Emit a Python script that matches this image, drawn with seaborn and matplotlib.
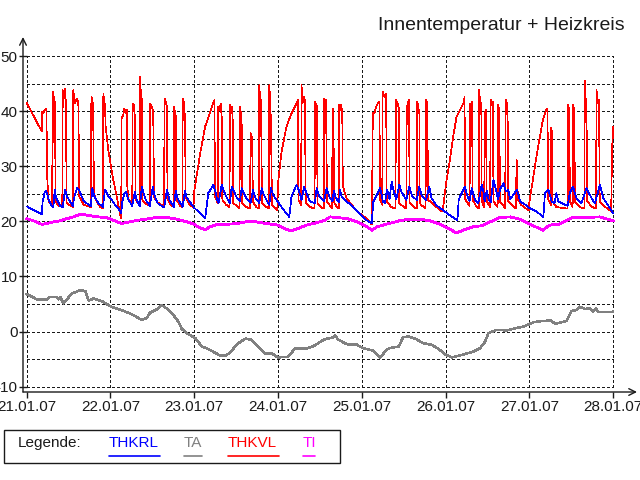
import matplotlib
matplotlib.use("Agg")
import matplotlib.pyplot as plt
import pandas as pd
import seaborn as sns
from matplotlib.lines import Line2D
from matplotlib.patches import Rectangle

# ---------------- data (time in days since 21.01.07 00:00, value in degC) -------------
day_labels = ["21.01.07", "22.01.07", "23.01.07", "24.01.07",
              "25.01.07", "26.01.07", "27.01.07", "28.01.07"]
y_labels = [-10, 0, 10, 20, 30, 40, 50]

# THKVL (flow temperature, red)
thkvl = [
    (0.00, 41.5), (0.18, 36.3), (0.185, 39.9), (0.20, 39.6), (0.215, 40.2), (0.235, 40.5), (0.245, 28.0), (0.26, 23.6), (0.30, 23.0),
    (0.318, 43.5), (0.328, 41.4), (0.338, 41.7), (0.345, 23.6), (0.38, 22.8), (0.425, 22.6),
    (0.43, 43.8), (0.445, 42.3), (0.457, 44.1), (0.468, 41.4), (0.477, 23.3), (0.55, 22.6),
    (0.556, 43.8), (0.576, 41.4), (0.596, 42.3), (0.616, 41.7), (0.628, 24.5), (0.68, 23.0), (0.765, 22.6),
    (0.772, 42.6), (0.787, 41.7), (0.795, 37.2), (0.803, 25.1), (0.835, 23.6), (0.875, 22.6), (0.908, 22.3),
    (0.915, 43.2), (0.926, 41.4), (0.934, 41.4), (0.942, 37.2), (0.974, 32.9), (1.006, 29.9), (1.034, 27.5), (1.074, 24.5), (1.113, 21.4), (1.128, 20.5),
    (1.133, 38.7), (1.153, 39.3), (1.165, 40.5), (1.181, 39.6), (1.193, 40.2), (1.201, 26.3), (1.213, 23.9), (1.26, 23.3),
    (1.265, 41.4), (1.28, 41.1), (1.292, 38.7), (1.30, 23.9), (1.332, 23.3), (1.348, 23.0),
    (1.353, 46.2), (1.364, 42.6), (1.372, 42.3), (1.38, 23.9), (1.412, 23.3), (1.467, 22.8),
    (1.472, 41.4), (1.492, 40.8), (1.504, 40.2), (1.512, 37.2), (1.519, 24.5), (1.551, 23.6), (1.64, 22.6),
    (1.645, 42.3), (1.665, 41.4), (1.675, 40.5), (1.68, 24.0), (1.72, 23.0), (1.755, 22.6),
    (1.758, 40.8), (1.772, 39.6), (1.782, 39.0), (1.786, 24.0), (1.83, 22.8), (1.858, 22.5),
    (1.862, 42.3), (1.878, 41.4), (1.89, 38.4), (1.897, 24.5), (1.94, 23.0), (1.99, 22.6),
    (2.00, 25.5), (2.07, 32.3), (2.13, 37.2), (2.19, 39.9), (2.227, 41.6), (2.24, 42.0), (2.247, 24.5), (2.28, 23.3),
    (2.287, 40.8), (2.299, 40.2), (2.315, 41.4), (2.327, 39.0), (2.335, 23.9), (2.38, 23.0), (2.42, 22.6),
    (2.426, 41.1), (2.438, 40.2), (2.45, 40.8), (2.458, 38.4), (2.466, 23.3), (2.52, 22.6), (2.54, 22.3),
    (2.545, 40.8), (2.557, 39.6), (2.565, 38.0), (2.573, 23.3), (2.62, 22.6), (2.665, 22.3),
    (2.672, 36.0), (2.69, 35.0), (2.70, 23.5), (2.74, 22.6), (2.77, 22.3),
    (2.776, 44.7), (2.788, 41.4), (2.796, 42.0), (2.808, 23.3), (2.86, 22.6), (2.89, 22.3),
    (2.895, 44.7), (2.907, 41.4), (2.915, 37.8), (2.927, 23.0), (2.97, 22.3), (2.99, 22.0),
    (3.00, 27.0), (3.04, 32.5), (3.10, 37.2), (3.16, 39.6), (3.22, 41.4), (3.235, 42.0), (3.243, 23.9), (3.275, 23.0),
    (3.28, 44.7), (3.292, 41.4), (3.308, 42.6), (3.32, 42.0), (3.33, 23.3), (3.38, 22.6), (3.435, 22.3),
    (3.44, 41.7), (3.452, 40.5), (3.46, 41.4), (3.472, 23.3), (3.51, 22.6), (3.545, 22.3),
    (3.548, 42.3), (3.56, 41.4), (3.572, 42.0), (3.584, 23.6), (3.63, 22.6), (3.645, 22.4),
    (3.65, 40.5), (3.66, 39.6), (3.668, 23.5), (3.70, 22.6), (3.726, 22.3),
    (3.730, 41.1), (3.742, 40.2), (3.754, 41.1), (3.766, 39.6), (3.772, 26.5), (3.786, 25.7), (3.818, 24.2), (3.898, 22.6), (3.978, 21.4), (4.057, 20.5), (4.12, 19.4),
    (4.13, 39.6), (4.15, 39.6), (4.17, 40.8), (4.19, 41.4), (4.21, 41.7), (4.216, 24.0), (4.243, 23.0),
    (4.248, 43.5), (4.27, 42.6), (4.29, 43.2), (4.296, 23.6), (4.35, 22.6), (4.40, 22.3),
    (4.407, 42.0), (4.425, 41.4), (4.44, 40.5), (4.445, 23.3), (4.50, 22.6), (4.53, 22.3),
    (4.535, 40.2), (4.55, 41.7), (4.562, 42.0), (4.57, 23.3), (4.62, 22.6), (4.655, 22.3),
    (4.66, 41.7), (4.672, 40.8), (4.686, 39.6), (4.69, 23.3), (4.72, 22.8), (4.76, 22.4),
    (4.765, 42.0), (4.78, 41.4), (4.79, 23.8), (4.83, 23.5), (4.89, 22.6), (4.93, 22.0), (4.965, 21.8),
    (4.98, 23.9), (5.01, 27.5), (5.05, 31.1), (5.09, 35.4), (5.13, 39.0), (5.17, 40.2), (5.21, 41.4), (5.225, 42.5), (5.232, 24.0), (5.285, 22.8),
    (5.29, 41.4), (5.30, 40.5), (5.315, 41.7), (5.322, 23.9), (5.37, 22.6), (5.395, 22.3),
    (5.40, 43.8), (5.41, 41.7), (5.425, 41.4), (5.43, 23.6), (5.46, 22.6),
    (5.465, 39.6), (5.48, 40.2), (5.49, 23.6), (5.53, 22.6),
    (5.537, 42.0), (5.55, 41.4), (5.565, 41.7), (5.57, 23.6), (5.62, 22.6),
    (5.625, 41.1), (5.64, 40.2), (5.648, 23.6), (5.71, 22.4),
    (5.716, 42.0), (5.73, 41.4), (5.74, 38.0), (5.745, 23.6), (5.84, 22.3),
    (5.845, 31.1), (5.855, 30.5), (5.86, 24.0), (5.90, 23.0), (5.96, 22.3), (5.99, 22.0),
    (6.00, 23.6), (6.04, 27.5), (6.08, 31.4), (6.12, 35.0), (6.16, 38.4), (6.20, 40.2), (6.215, 40.5), (6.222, 24.0), (6.255, 23.0),
    (6.26, 37.0), (6.27, 36.0), (6.275, 23.6), (6.32, 22.6), (6.455, 22.3),
    (6.46, 41.1), (6.475, 40.2), (6.482, 23.6), (6.515, 22.6),
    (6.52, 41.1), (6.535, 40.2), (6.542, 23.6), (6.60, 22.6), (6.655, 22.3),
    (6.66, 45.5), (6.67, 42.3), (6.68, 41.4), (6.688, 23.6), (6.75, 22.6), (6.795, 22.3),
    (6.80, 43.8), (6.815, 41.4), (6.83, 42.0), (6.838, 23.6), (6.90, 22.6), (6.935, 22.3),
    (6.975, 21.8), (6.985, 33.0), (7.00, 37.2),
]

# THKRL (return temperature, blue)
thkrl = [
    (0.00, 22.7), (0.18, 21.3), (0.19, 23.5), (0.215, 25.3), (0.235, 25.5), (0.26, 24.0), (0.30, 22.7), (0.318, 22.5),
    (0.335, 25.8), (0.35, 24.3), (0.40, 22.8), (0.43, 22.5), (0.46, 25.8), (0.48, 24.5), (0.55, 22.8), (0.57, 24.5),
    (0.60, 26.0), (0.63, 25.5), (0.68, 23.7), (0.765, 22.7), (0.783, 26.0), (0.807, 24.5), (0.855, 23.3), (0.91, 22.6),
    (0.934, 25.7), (0.95, 25.4), (0.974, 24.5), (1.014, 23.9), (1.054, 23.0), (1.094, 22.4), (1.128, 21.4),
    (1.14, 23.5), (1.165, 25.1), (1.185, 25.4), (1.21, 24.0), (1.26, 22.8), (1.29, 25.4), (1.31, 24.0), (1.35, 22.8),
    (1.375, 26.3), (1.39, 25.4), (1.42, 23.9), (1.47, 22.8), (1.505, 26.3), (1.52, 25.0), (1.56, 23.3), (1.64, 22.5),
    (1.675, 25.8), (1.70, 24.0), (1.755, 22.6), (1.78, 25.5), (1.80, 24.2), (1.86, 22.6), (1.89, 25.5), (1.91, 24.3),
    (1.99, 22.6), (2.07, 21.4), (2.13, 20.6), (2.167, 25.1), (2.227, 26.6), (2.25, 25.5), (2.28, 23.5),
    (2.29, 23.3), (2.327, 26.6), (2.345, 25.8), (2.39, 24.2), (2.426, 23.3), (2.446, 26.3), (2.466, 25.7), (2.51, 24.2),
    (2.545, 23.6), (2.565, 26.0), (2.59, 25.1), (2.63, 24.0), (2.672, 23.3), (2.70, 25.7), (2.73, 24.2), (2.776, 23.3),
    (2.804, 26.0), (2.83, 24.8), (2.87, 23.6), (2.895, 23.0), (2.915, 26.0), (2.94, 24.8), (2.98, 23.9), (3.04, 22.6),
    (3.10, 21.4), (3.134, 20.8), (3.16, 24.5), (3.22, 26.6), (3.245, 25.7), (3.28, 23.9),
    (3.31, 26.3), (3.34, 25.1), (3.38, 23.6), (3.44, 23.3), (3.46, 26.0), (3.49, 24.5), (3.548, 23.6), (3.579, 26.0),
    (3.61, 24.5), (3.65, 23.6), (3.665, 25.5), (3.69, 24.2), (3.728, 23.5), (3.74, 25.7), (3.76, 24.5), (3.818, 23.6),
    (3.898, 22.6), (3.978, 21.4), (4.057, 20.2), (4.117, 19.6),
    (4.137, 23.6), (4.17, 24.5), (4.216, 26.0), (4.235, 25.0), (4.25, 23.6), (4.275, 23.3), (4.30, 25.8), (4.33, 24.0),
    (4.355, 27.2), (4.37, 26.0), (4.41, 24.0), (4.447, 26.6), (4.47, 25.4), (4.53, 23.9), (4.566, 26.3), (4.60, 24.5),
    (4.655, 23.9), (4.685, 26.3), (4.71, 24.8), (4.765, 23.9), (4.805, 26.3), (4.83, 24.2), (4.89, 22.9), (4.97, 22.0),
    (5.05, 21.1), (5.14, 20.2), (5.155, 23.9), (5.19, 25.1), (5.23, 26.3), (5.25, 25.0), (5.285, 23.6),
    (5.31, 26.0), (5.35, 23.9), (5.39, 23.3), (5.43, 26.6), (5.45, 25.4), (5.465, 23.6), (5.49, 25.5), (5.51, 24.0),
    (5.537, 23.5), (5.57, 27.5), (5.60, 25.7), (5.625, 24.0), (5.648, 25.8), (5.69, 26.9), (5.72, 25.4), (5.745, 25.8),
    (5.77, 24.0), (5.85, 25.7), (5.89, 23.6), (5.95, 23.0), (6.00, 22.4), (6.08, 21.8), (6.165, 20.8), (6.185, 25.1),
    (6.225, 25.7), (6.265, 23.6),
    (6.30, 23.3), (6.32, 25.1), (6.345, 23.6), (6.455, 22.8), (6.48, 25.1), (6.52, 26.3), (6.56, 24.2), (6.62, 23.3),
    (6.68, 26.0), (6.74, 24.2), (6.78, 23.3), (6.84, 26.6), (6.88, 24.2), (6.92, 23.3), (6.96, 22.4), (7.00, 21.4),
]

# TA (outside temperature, gray)
ta = [
    (0.00, 6.8), (0.12, 5.85), (0.24, 5.8), (0.28, 6.3), (0.36, 6.3), (0.38, 5.85), (0.40, 6.3), (0.44, 5.1),
    (0.48, 5.85), (0.54, 6.9), (0.64, 7.5), (0.70, 7.3), (0.74, 5.6), (0.80, 6.0), (0.91, 5.4), (1.01, 4.5),
    (1.15, 3.8), (1.27, 3.0), (1.37, 2.1), (1.43, 2.4), (1.47, 3.4), (1.55, 4.0), (1.61, 4.8), (1.67, 4.2),
    (1.75, 3.0), (1.81, 1.8), (1.85, 0.5), (1.91, -0.3), (2.01, -1.2), (2.09, -2.7), (2.19, -3.35), (2.31, -4.4),
    (2.37, -4.4), (2.43, -3.8), (2.51, -2.3), (2.61, -1.3), (2.68, -1.5), (2.76, -2.7), (2.84, -3.95), (2.92, -3.95),
    (3.00, -4.7), (3.12, -4.6), (3.20, -3.1), (3.34, -3.1), (3.42, -2.7), (3.50, -1.9), (3.56, -1.4), (3.66, -1.05),
    (3.68, -0.75), (3.72, -1.5), (3.82, -2.3), (3.94, -2.4), (4.02, -3.05), (4.14, -3.5), (4.22, -4.7), (4.30, -3.2),
    (4.36, -2.9), (4.44, -2.75), (4.49, -1.05), (4.55, -0.9), (4.65, -1.4), (4.73, -2.1), (4.83, -2.4), (4.91, -3.1),
    (4.99, -4.1), (5.07, -4.7), (5.19, -4.25), (5.33, -3.65), (5.41, -3.05), (5.47, -1.85), (5.51, -0.3), (5.61, 0.3),
    (5.73, 0.2), (5.81, 0.5), (5.93, 0.9), (6.05, 1.7), (6.15, 1.9), (6.25, 2.0), (6.31, 1.4), (6.44, 1.9),
    (6.50, 3.7), (6.56, 3.9), (6.60, 4.5), (6.66, 4.1), (6.72, 4.2), (6.76, 3.6), (6.79, 4.2), (6.82, 3.5),
    (6.92, 3.5), (7.00, 3.6),
]

# TI (indoor temperature, magenta)
ti = [
    (0.00, 20.5), (0.08, 20.1), (0.18, 19.45), (0.24, 19.6), (0.32, 19.9), (0.40, 20.1), (0.46, 20.4), (0.56, 20.8),
    (0.64, 21.3), (0.76, 21.0), (0.85, 20.8), (0.95, 20.7), (1.05, 20.1), (1.13, 19.6), (1.23, 19.9), (1.33, 20.2),
    (1.43, 20.4), (1.55, 20.7), (1.67, 20.7), (1.79, 20.4), (1.91, 19.9), (1.99, 19.5), (2.07, 18.8), (2.13, 18.5),
    (2.19, 19.0), (2.27, 19.45), (2.39, 19.45), (2.51, 19.6), (2.62, 19.9), (2.74, 19.9), (2.86, 19.6), (3.00, 19.3),
    (3.10, 18.5), (3.16, 18.3), (3.24, 18.7), (3.34, 19.3), (3.46, 19.75), (3.56, 20.2), (3.62, 20.8), (3.70, 20.7),
    (3.82, 20.5), (3.94, 19.9), (4.06, 19.0), (4.12, 18.4), (4.18, 19.0), (4.30, 19.5), (4.45, 20.1), (4.57, 20.4),
    (4.69, 20.4), (4.81, 20.1), (4.93, 19.5), (5.03, 18.7), (5.13, 17.9), (5.23, 18.5), (5.33, 19.0), (5.43, 19.2),
    (5.53, 19.9), (5.65, 20.7), (5.77, 20.8), (5.88, 20.4), (6.00, 19.5), (6.16, 18.4), (6.24, 19.3), (6.36, 19.5),
    (6.52, 20.7), (6.68, 20.7), (6.84, 20.8), (7.00, 20.1),
]

series_names = ["THKRL", "TA", "THKVL", "TI"]
series_colors = {"THKRL": "#0000ff", "TA": "#808080", "THKVL": "#ff0000", "TI": "#ff00ff"}

# ---------------- figure ----------------
sns.set_theme(style="white")
plt.rcParams["font.family"] = ["Liberation Sans", "DejaVu Sans"]

W, H = 640, 480
fig = plt.figure(figsize=(6.4, 4.8), dpi=100, facecolor="white")


def fx(px):
    return px / W


def fy(py):
    return 1 - py / H


ax = fig.add_axes([fx(23), fy(392), fx(637) - fx(23), fy(37) - fy(392)])
ax.set_facecolor("white")
ax.set_xlim(-0.044, 7.283)
ax.set_ylim(-10.98, 53.45)

# dashed grid inside the data range
dash = (0, (3, 3))
ax.hlines(list(range(-10, 51, 5)), 0, 7, colors="k", linestyles=dash, lw=0.7,
          zorder=1, antialiased=False)
ax.vlines(list(range(len(day_labels))), -10, 50, colors="k", linestyles=dash, lw=0.7,
          zorder=1, antialiased=False)

plot_order = [("THKVL", thkvl, 0.5), ("THKRL", thkrl, 0.5), ("TA", ta, 1.1), ("TI", ti, 1.3)]
for name, pts, lw in plot_order:
    df = pd.DataFrame(pts, columns=["t", "v"])
    sns.lineplot(data=df, x="t", y="v", color=series_colors[name], lw=lw,
                 estimator=None, sort=False, ax=ax, zorder=3, antialiased=False)

ax.set_xlabel("")
ax.set_ylabel("")
ax.set_xticks(list(range(len(day_labels))))
ax.set_xticklabels(day_labels)
ax.set_yticks(y_labels)
ax.set_yticklabels([str(v) for v in y_labels])
ax.tick_params(axis="x", direction="out", length=4, width=1, pad=2, labelsize=11, colors="k")
ax.tick_params(axis="y", direction="inout", length=6, width=1, pad=1, labelsize=11, colors="k")
ax.tick_params(axis="both", which="both", bottom=True, left=True)
for s in ax.spines.values():
    s.set_visible(False)

# axis lines with arrows
ax.annotate("", xy=(1, 0), xytext=(0, 0), xycoords="axes fraction",
            arrowprops=dict(arrowstyle="->", color="k", lw=1, shrinkA=0, shrinkB=0), annotation_clip=False)
ax.annotate("", xy=(0, 1), xytext=(0, 0), xycoords="axes fraction",
            arrowprops=dict(arrowstyle="->", color="k", lw=1, shrinkA=0, shrinkB=0), annotation_clip=False)

# title
fig.text(fx(625), fy(25), "Innentemperatur + Heizkreis", ha="right", va="center", fontsize=14, color="k")

# custom legend
fig.add_artist(Rectangle((fx(4), fy(463)), fx(340) - fx(4), fy(430) - fy(463),
                         transform=fig.transFigure, fill=False, ec="k", lw=1))
fig.text(fx(18), fy(447), "Legende:", ha="left", va="baseline", fontsize=11, color="k")
leg_x = {"THKRL": (109, 160), "TA": (184, 202), "THKVL": (228, 279), "TI": (303, 315)}
for name in series_names:
    x1, x2 = leg_x[name]
    fig.text(fx(x1), fy(447), name, ha="left", va="baseline", fontsize=11, color=series_colors[name])
    fig.add_artist(Line2D([fx(x1), fx(x2)], [fy(456), fy(456)], transform=fig.transFigure,
                          color=series_colors[name], lw=1.2))

fig.savefig("out.png", dpi=100, facecolor="white")
